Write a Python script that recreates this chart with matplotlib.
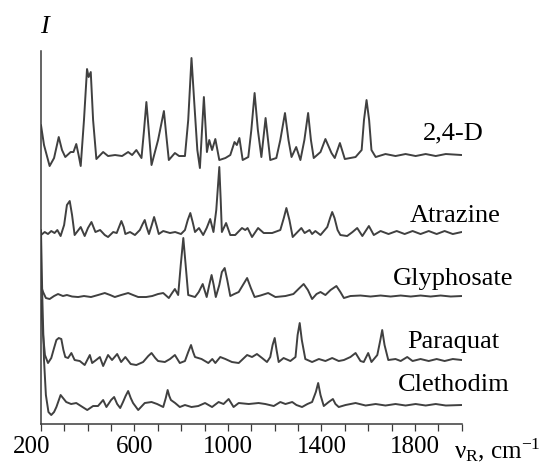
import matplotlib.pyplot as plt
import matplotlib.transforms as mtransforms
import numpy as np

plt.rcParams['font.family'] = 'Liberation Serif'
plt.rcParams['mathtext.fontset'] = 'custom'
plt.rcParams['mathtext.rm'] = 'Liberation Serif'
plt.rcParams['mathtext.it'] = 'Liberation Serif:italic'

# Raman shift (cm-1), intensity (a.u., relative to each baseline)
d24 = np.array([
    [200, 31], [213, 11], [237, -10], [256, -2], [276, 19], [290, 6], [304, -1],
    [327, 4], [339, 4], [351, 12], [361, 1], [370, -10], [384, 36], [397, 87],
    [404, 79], [413, 84], [423, 36], [437, -3], [466, 4], [487, 0], [517, 1],
    [547, 0], [573, 4], [590, 1], [608, 6], [630, -2], [641, 26], [651, 54],
    [661, 26], [673, -9], [701, 16], [726, 45], [736, 21], [747, -4], [773, 3],
    [791, 0], [816, 0], [830, 36], [844, 98], [856, 53], [869, 6], [880, -12],
    [889, 26], [897, 59], [905, 26], [910, 4], [920, 16], [932, 6], [946, 17],
    [963, -4], [989, -2], [1010, 1], [1028, 14], [1038, 11], [1049, 18],
    [1063, -4], [1087, -1], [1100, 26], [1114, 63], [1128, 26], [1143, -1],
    [1161, 38], [1181, -4], [1207, -2], [1224, 16], [1244, 43], [1259, 16],
    [1272, -1], [1292, 9], [1310, -4], [1327, 16], [1343, 43], [1355, 16],
    [1367, -2], [1396, 4], [1417, 17], [1443, 3], [1457, -2], [1479, 13],
    [1500, -3], [1546, -1], [1572, 6], [1582, 36], [1593, 56], [1604, 36],
    [1614, 6], [1632, -1], [1674, 2], [1717, 0], [1760, 2], [1803, 0],
    [1846, 2], [1889, 0], [1932, 2], [2000, 1]])

atrazine = np.array([
    [200, -2], [216, 1], [230, -1], [244, 2], [258, 0], [270, 3], [284, -3],
    [299, 8], [311, 28], [323, 32], [333, 18], [344, -2], [370, 6], [387, -3],
    [401, 5], [416, 11], [433, 1], [453, 3], [473, -2], [487, -4], [509, 1],
    [524, 0], [534, 6], [544, 12], [554, 6], [561, -1], [581, 1], [602, -2],
    [623, 3], [635, 9], [644, 13], [652, 6], [662, -1], [674, 8], [684, 16],
    [695, 7], [704, -1], [723, 2], [752, 0], [774, 1], [799, -1], [816, 3],
    [828, 13], [839, 20], [849, 11], [859, 1], [876, 5], [894, -2], [909, 5],
    [924, 14], [938, 1], [950, 23], [963, 66], [969, 33], [974, 1], [992, 10],
    [1010, -2], [1031, -2], [1060, 5], [1074, 3], [1084, 5], [1103, -4],
    [1129, 5], [1153, 0], [1189, 0], [1224, 3], [1239, 15], [1250, 25],
    [1263, 13], [1277, -4], [1314, 5], [1328, 0], [1349, 3], [1360, -1],
    [1374, 2], [1396, -2], [1425, 6], [1437, 15], [1446, 21], [1456, 15],
    [1469, 3], [1481, -2], [1510, -3], [1533, 1], [1553, 5], [1575, -3],
    [1603, 7], [1624, -2], [1653, 2], [1687, -1], [1722, 2], [1756, -1],
    [1790, 2], [1824, -1], [1859, 2], [1893, -1], [1927, 2], [1962, -1],
    [2000, 1]])

glyphosate = np.array([
    [200, 10], [209, 4], [221, -2], [237, -3], [256, 0], [273, 2], [294, 0],
    [311, 1], [333, -0.5], [359, -1], [384, 0], [414, -1], [444, 1], [473, 3],
    [496, 1], [516, -1], [543, 1], [573, 3], [594, 1], [616, -1], [650, -1],
    [676, 0], [701, 2], [723, 3], [747, -2], [761, 3], [773, 7], [787, 1],
    [798, 31], [809, 58], [819, 31], [830, 1], [859, -1], [875, 4], [892, 12],
    [909, -1], [920, 11], [930, 21], [939, 11], [948, -1], [963, 11], [974, 24],
    [986, 28], [997, 16], [1010, 0], [1027, 2], [1046, 4], [1064, 11],
    [1082, 18], [1098, 8], [1114, -1], [1139, 0.5], [1172, 3], [1203, -1],
    [1246, 0], [1280, 2], [1306, 8], [1324, 12], [1342, 6], [1360, -3],
    [1379, 2], [1396, 4], [1417, 1], [1439, 6], [1464, 10], [1481, 4],
    [1496, -2], [1524, 0], [1567, 0.5], [1610, -0.5], [1653, 0.5],
    [1696, -0.5], [1739, 0.5], [1782, -0.5], [1824, 0.5], [1867, -0.5],
    [1910, 0.5], [1953, -0.5], [2000, 0]])

paraquat = np.array([
    [200, 60], [209, 25], [217, 5], [230, -3], [244, 2], [256, 12], [266, 20],
    [276, 22], [287, 21], [296, 10], [304, 3], [316, 2], [330, 7], [344, 0],
    [366, -1], [387, -5], [409, 5], [419, -3], [436, 0], [452, 3], [466, -6],
    [487, 5], [504, 0], [526, 6], [543, -2], [561, 3], [584, -4], [608, -5],
    [637, -2], [659, 4], [673, 7], [689, 2], [701, -1], [730, -2], [752, 1],
    [773, 5], [794, -3], [816, -1], [830, 8], [842, 15], [851, 8], [859, 3],
    [887, 1], [916, -3], [933, 1], [946, -3], [967, 3], [989, 1], [1017, -2],
    [1046, -3], [1082, 5], [1103, 3], [1124, 6], [1146, 2], [1167, -2],
    [1181, 3], [1191, 15], [1200, 22], [1208, 10], [1217, -2], [1238, 2],
    [1267, -1], [1289, 3], [1298, 25], [1307, 37], [1316, 20], [1331, 1],
    [1360, -2], [1389, 1], [1417, -1], [1446, 2], [1474, -1], [1496, 0],
    [1524, 3], [1546, 7], [1567, -1], [1581, -2], [1600, 7], [1614, -2],
    [1639, 5], [1652, 20], [1660, 30], [1670, 15], [1686, 0], [1717, 1],
    [1739, -1], [1767, 3], [1790, -1], [1824, 1], [1859, -1], [1893, 1],
    [1927, -1], [1962, 1], [2000, 0]])

clethodim = np.array([
    [200, 175], [206, 105], [213, 45], [221, 10], [232, -7], [244, -10],
    [256, -7], [266, -2], [284, 10], [308, 3], [329, 1], [351, 2], [371, -1],
    [398, -5], [423, -1], [444, -1], [466, 5], [480, -2], [500, 5], [513, 8],
    [526, 1], [539, -3], [551, 3], [562, 9], [573, 14], [584, 7], [594, 2],
    [616, -5], [644, 2], [673, 3], [697, 1], [723, -2], [734, 7], [742, 15],
    [749, 9], [756, 5], [774, 2], [794, -2], [816, 0], [844, -2], [873, -1],
    [902, 2], [932, -2], [960, 3], [981, 1], [1003, 6], [1024, -2], [1046, 2],
    [1089, 1], [1131, 2], [1160, 1], [1196, -1], [1224, 3], [1246, 1],
    [1275, 3], [1293, 0], [1317, -2], [1340, 1], [1360, 3], [1376, 13],
    [1386, 22], [1396, 10], [1410, -1], [1431, 3], [1449, 6], [1460, 1],
    [1474, -2], [1503, 0], [1546, 2], [1589, -0.5], [1632, 1], [1674, -0.5],
    [1717, 1], [1760, -0.5], [1803, 1], [1846, -0.5], [1889, 1],
    [1932, -0.5], [2000, 0]])

spectra = [d24, atrazine, glyphosate, paraquat, clethodim]
names = ['2,4-D', 'Atrazine', 'Glyphosate', 'Paraquat', 'Clethodim']
offsets = [268, 191, 128, 64, 19]
label_x = [1836, 1777, 1707, 1769, 1726]
label_y = [285, 202, 139, 76, 33]

fig = plt.figure(figsize=(5.42, 4.66), dpi=100)
ax = fig.add_axes([0.0756, 0.0901, 0.7762, 0.8004])

for s, off in zip(spectra, offsets):
    ax.plot(s[:, 0], s[:, 1] + off, color='#404040', lw=1.4,
            solid_joinstyle='round', solid_capstyle='round')

for name, lx, ly in zip(names, label_x, label_y):
    ax.text(lx, ly, name, fontsize=19, ha='left', va='baseline')

ax.set_xlim(200, 2000)
ax.set_ylim(0, 373)
ax.spines['top'].set_visible(False)
ax.spines['right'].set_visible(False)
for sp in ['left', 'bottom']:
    ax.spines[sp].set_color('#3a3a3a')
    ax.spines[sp].set_linewidth(1.1)

ax.set_yticks([])
ax.set_xticks([200, 600, 1000, 1400, 1800])
ax.set_xticks(np.arange(200, 2001, 100), minor=True)
ax.tick_params(axis='x', which='both', direction='out', length=5, width=0.9,
               color='#3a3a3a', labelsize=18, pad=3.5)
ax.tick_params(axis='x', which='minor', labelbottom=False)

# the first tick label sits a bit left of its tick
lab = ax.get_xticklabels()[0]
lab.set_transform(lab.get_transform() + mtransforms.ScaledTranslation(-9 / 100, 0, fig.dpi_scale_trans))

ax.text(213, 391, 'I', fontsize=19, style='italic', ha='center', va='baseline', clip_on=False)
ax.text(1966, -34, r'$\mathregular{ν_R}$, cm$^{\mathregular{-1}}$', fontsize=18,
        ha='left', va='baseline', clip_on=False)

fig.savefig('out.png', dpi=100)
